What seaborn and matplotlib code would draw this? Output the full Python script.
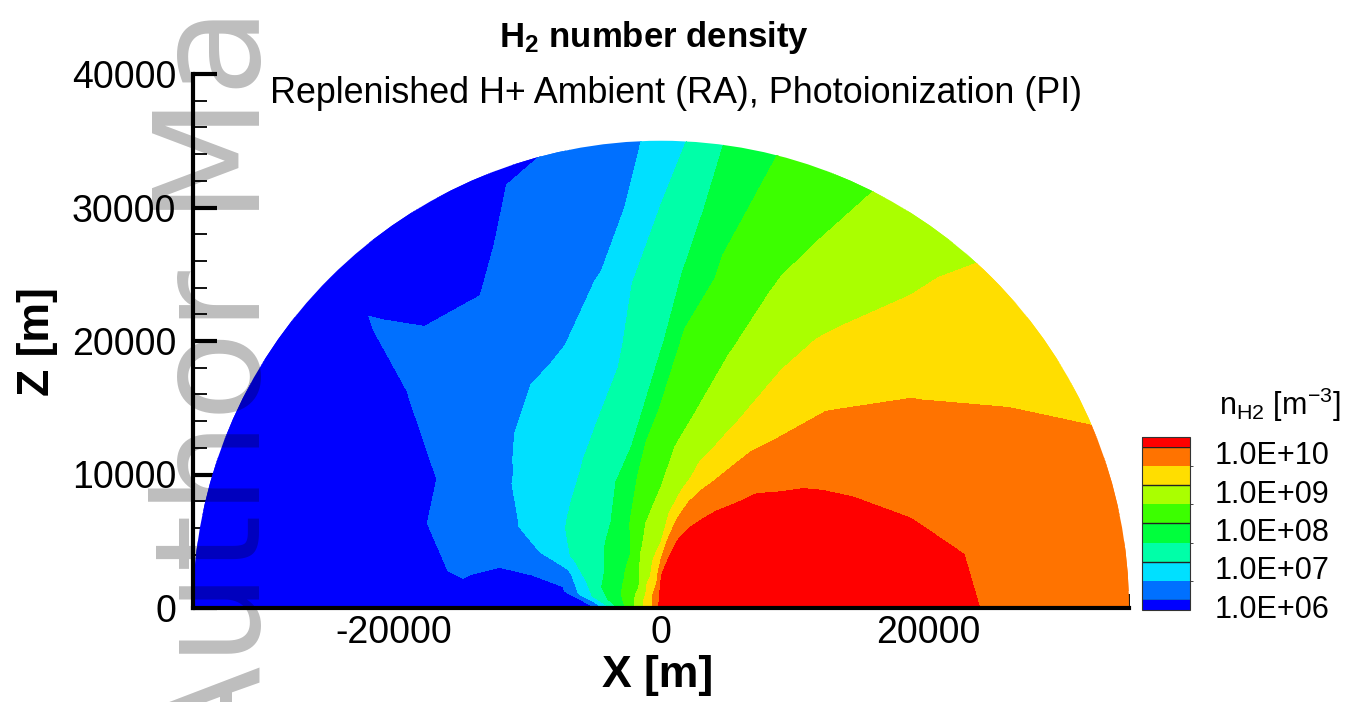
import numpy as np
import matplotlib
matplotlib.use("Agg")
import matplotlib.pyplot as plt
from matplotlib.colors import ListedColormap, BoundaryNorm
from matplotlib.patches import Wedge
from matplotlib.ticker import MultipleLocator, FixedLocator
from matplotlib.transforms import ScaledTranslation
import seaborn as sns

# Polar sampling of the model domain: angle from the +X axis and distance from the origin
angle_deg = [0, 10, 20, 30, 40, 50, 60, 70, 75, 80, 85, 90, 95, 100,
             110, 120, 130, 135, 140, 150, 160, 170, 180]
radius_m = [0, 2500, 5000, 7500, 10000, 12500, 15000, 20000, 25000, 30000, 35000]

# log10 of the H2 number density [m^-3] along each ray, one value per radius
logn_000 = [10.60, 10.58, 10.55, 10.50, 10.45, 10.40, 10.33, 10.16, 9.95, 9.82, 9.72]
logn_010 = [10.60, 10.58, 10.54, 10.49, 10.43, 10.37, 10.30, 10.12, 9.92, 9.78, 9.66]
logn_020 = [10.60, 10.56, 10.50, 10.44, 10.36, 10.27, 10.18, 9.99, 9.80, 9.66, 9.55]
logn_030 = [10.60, 10.52, 10.44, 10.34, 10.24, 10.14, 10.06, 9.87, 9.68, 9.50, 9.38]
logn_040 = [10.60, 10.48, 10.38, 10.25, 10.14, 10.05, 9.96, 9.72, 9.47, 9.30, 9.15]
logn_050 = [10.60, 10.45, 10.30, 10.17, 10.06, 9.93, 9.76, 9.45, 9.22, 9.04, 8.95]
logn_060 = [10.60, 10.40, 10.22, 10.07, 9.87, 9.60, 9.35, 9.13, 8.93, 8.76, 8.62]
logn_070 = [10.55, 10.35, 10.13, 9.90, 9.42, 9.08, 8.90, 8.72, 8.55, 8.38, 8.22]
logn_075 = [10.50, 10.30, 10.07, 9.65, 9.15, 8.88, 8.75, 8.48, 8.30, 8.15, 8.03]
logn_080 = [10.45, 10.20, 9.87, 9.30, 8.78, 8.65, 8.49, 8.28, 8.06, 7.90, 7.75]
logn_085 = [10.40, 10.12, 9.47, 8.90, 8.65, 8.47, 8.35, 8.10, 7.62, 7.38, 7.20]
logn_090 = [10.35, 9.90, 8.95, 8.65, 8.40, 8.20, 8.03, 7.40, 7.20, 7.01, 6.65]
logn_095 = [10.30, 9.50, 8.75, 8.50, 8.27, 8.00, 7.50, 7.22, 6.97, 6.51, 6.33]
logn_100 = [10.25, 9.20, 8.70, 8.35, 8.00, 7.47, 7.25, 6.87, 6.53, 6.28, 6.05]
logn_110 = [10.20, 8.95, 8.35, 7.85, 7.48, 7.18, 6.94, 6.54, 6.32, 6.13, 5.95]
logn_120 = [10.15, 8.75, 7.85, 7.49, 7.18, 6.95, 6.78, 6.46, 6.10, 5.85, 5.80]
logn_130 = [10.10, 8.45, 7.70, 7.35, 7.04, 6.80, 6.60, 6.35, 6.12, 5.88, 5.80]
logn_135 = [10.08, 8.38, 7.64, 7.28, 6.98, 6.74, 6.53, 6.30, 6.14, 6.03, 5.85]
logn_140 = [10.05, 8.30, 7.58, 7.20, 6.92, 6.67, 6.46, 6.22, 5.98, 5.85, 5.80]
logn_150 = [10.00, 8.25, 7.47, 7.03, 6.78, 6.47, 6.26, 5.96, 5.85, 5.82, 5.80]
logn_160 = [9.95, 8.20, 7.40, 6.30, 6.22, 6.16, 6.10, 5.96, 5.85, 5.82, 5.80]
logn_170 = [9.90, 8.15, 7.10, 5.90, 5.82, 5.88, 6.03, 5.90, 5.82, 5.80, 5.80]
logn_180 = [9.85, 8.10, 5.85, 5.80, 5.80, 5.80, 5.80, 5.80, 5.80, 5.80, 5.80]

# Contour levels (log10 n) and legend
levels = [6.0, 6.5, 7.0, 7.5, 8.0, 8.5, 9.0, 9.5, 10.0]
band_colors = ["#0070FF", "#00E0FF", "#00FFA8", "#00FF3C",
               "#3CFF00", "#AAFF00", "#FFDE00", "#FF7300"]
below_color = "#0000FF"
above_color = "#FF0000"
legend_ticks = [6, 7, 8, 9, 10]
legend_labels = ["1.0E+06", "1.0E+07", "1.0E+08", "1.0E+09", "1.0E+10"]

x_major = [-20000, 0, 20000]
z_major = [0, 10000, 20000, 30000, 40000]
domain_radius = 35000

sns.set_style("white")
plt.rcParams["font.family"] = ["Liberation Sans", "DejaVu Sans"]
plt.rcParams["text.color"] = "black"
plt.rcParams["mathtext.fontset"] = "custom"
plt.rcParams["mathtext.rm"] = "Liberation Sans"
plt.rcParams["mathtext.it"] = "Liberation Sans:italic"
plt.rcParams["mathtext.bf"] = "Liberation Sans:bold"

W, H = 1348, 702
fig = plt.figure(figsize=(W / 100, H / 100), dpi=100)
fig.patch.set_facecolor("white")

ax = fig.add_axes([193 / W, 1 - 608 / H, 936 / W, 534 / H])
ax.set_facecolor("white")

# Curvilinear polar mesh; the outer ring circumscribes the arc so that the
# clip to the exact semicircle leaves no gaps
th = np.deg2rad(np.asarray(angle_deg, dtype=float))
rr = np.asarray(radius_m, dtype=float).copy()
rr[-1] = rr[-1] / np.cos(np.deg2rad(5.0))
TH, RR = np.meshgrid(th, rr, indexing="ij")
X = RR * np.cos(TH)
Z = RR * np.sin(TH)
LOGN = np.array([logn_000, logn_010, logn_020, logn_030, logn_040, logn_050,
                 logn_060, logn_070, logn_075, logn_080, logn_085, logn_090,
                 logn_095, logn_100, logn_110, logn_120, logn_130, logn_135,
                 logn_140, logn_150, logn_160, logn_170, logn_180])

cmap = ListedColormap(band_colors)
cmap.set_under(below_color)
cmap.set_over(above_color)
norm = BoundaryNorm(levels, cmap.N)

cs = ax.contourf(X, Z, LOGN, levels=levels, cmap=cmap, norm=norm, extend="both")
cs.set_edgecolor("face")
cs.set_linewidth(0.4)
clip = Wedge((0, 0), domain_radius, 0, 180, transform=ax.transData)
cs.set_clip_path(clip)

ax.set_xlim(-35000, 35000)
ax.set_ylim(0, 40000)

sns.despine(ax=ax, top=True, right=True)
for side in ("left", "bottom"):
    ax.spines[side].set_linewidth(3.0)
    ax.spines[side].set_color("black")
    ax.spines[side].set_zorder(5)

ax.xaxis.set_major_locator(FixedLocator(x_major))
ax.xaxis.set_minor_locator(MultipleLocator(5000))
ax.yaxis.set_major_locator(FixedLocator(z_major))
ax.yaxis.set_minor_locator(MultipleLocator(2000))
ax.set_xticklabels([f"{v:d}" for v in x_major])
ax.set_yticklabels([f"{v:d}" for v in z_major])
ax.tick_params(which="both", bottom=True, left=True, top=False, right=False)
ax.tick_params(which="major", direction="in", length=17, width=3.0,
               color="black", labelsize=27, labelcolor="black")
ax.tick_params(which="minor", direction="in", length=10, width=1.3, color="black")
ax.tick_params(axis="x", which="major", pad=5)
ax.tick_params(axis="y", which="major", pad=12)
ax.grid(False)

# Legend bar (the box includes the two end caps)
cax = fig.add_axes([1142 / W, 1 - 610 / H, 48 / W, 173 / H])
cbar = fig.colorbar(cs, cax=cax, extend="both", extendrect=True,
                    extendfrac=0.065, drawedges=False)
cbar.outline.set_linewidth(0.8)
cbar.outline.set_edgecolor("#333333")
for v in legend_ticks:
    cax.axhline(v, color="#222222", lw=1.0)
cbar.set_ticks(legend_ticks)
cbar.set_ticklabels(legend_labels)
cax.tick_params(length=0, pad=18, labelsize=22, labelcolor="black")
shift = ScaledTranslation(0, -6 / 100, fig.dpi_scale_trans)
for lbl in cax.get_yticklabels():
    lbl.set_transform(lbl.get_transform() + shift)

fig.text(1280 / W, 1 - 405 / H, r"n$_{\mathregular{H2}}$ [m$^{\mathregular{-3}}$]",
         ha="center", va="center", fontsize=22, color="black")

# Titles and axis labels
fig.text(654.5 / W, 1 - 47 / H, r"H$_\mathbf{2}$ number density",
         ha="center", va="baseline", fontsize=25, fontweight="bold", color="black")
fig.text(676 / W, 1 - 103 / H,
         "Replenished H+ Ambient (RA), Photoionization (PI)",
         ha="center", va="baseline", fontsize=25.8, color="black")
fig.text(658 / W, 1 - 675 / H, "X [m]", ha="center", va="center",
         fontsize=32, fontweight="bold", color="black")
fig.text(37 / W, 1 - 342 / H, "Z [m]", ha="center", va="center",
         rotation=90, fontsize=32, fontweight="bold", color="black")

# Watermark
fig.text(260 / W, 1 - 766 / H, "Author Manuscript", rotation=90,
         rotation_mode="anchor", ha="left", va="baseline", fontsize=106,
         family="DejaVu Sans", color="black", alpha=0.26, zorder=20)

fig.savefig("out.png", dpi=100, facecolor="white")
